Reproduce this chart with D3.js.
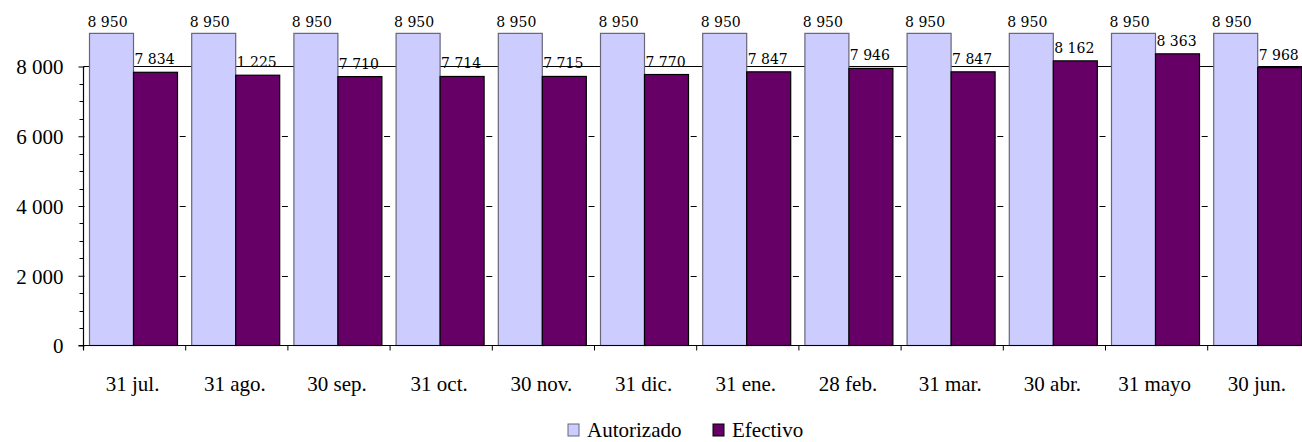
<!DOCTYPE html>
<html>
<head>
<meta charset="utf-8">
<script src="https://cdn.jsdelivr.net/npm/d3@7"></script>
<style>
  body { margin: 0; background: #fff; }
  svg { display: block; }
</style>
</head>
<body>
<div id="myGraph"></div>
<script>
// data
var categories = ['31 jul.', '31 ago.', '30 sep.', '31 oct.', '30 nov.', '31 dic.',
                  '31 ene.', '28 feb.', '31 mar.', '30 abr.', '31 mayo', '30 jun.'];
var series = ['Autorizado', 'Efectivo'];
var autorizado = [8950, 8950, 8950, 8950, 8950, 8950, 8950, 8950, 8950, 8950, 8950, 8950];
var efectivo = [7834, 7750, 7710, 7714, 7715, 7770, 7847, 7946, 7847, 8162, 8363, 7968];
var autorizadoLabels = ['8 950', '8 950', '8 950', '8 950', '8 950', '8 950',
                        '8 950', '8 950', '8 950', '8 950', '8 950', '8 950'];
var efectivoLabels = ['7 834', '1 225', '7 710', '7 714', '7 715', '7 770',
                      '7 847', '7 946', '7 847', '8 162', '8 363', '7 968'];
var yTicks = [0, 2000, 4000, 6000, 8000];
var yTickLabels = ['0', '2 000', '4 000', '6 000', '8 000'];
var colors = { Autorizado: '#ccccff', Efectivo: '#660066' };
var strokes = { Autorizado: '#666677', Efectivo: '#000000' };

var serifFont = "'Liberation Serif', serif";
var valFont = "'DejaVu Serif', serif";

var W = 1302, H = 442;
var axisX = 83.5, baseY = 345.5, topY = 66.5;

var svg = d3.select('#myGraph').append('svg').attr('width', W).attr('height', H);

var y = d3.scaleLinear().domain([0, 8000]).range([baseY, topY]);
var x0 = d3.scaleBand().domain(categories).range([axisX, axisX + 12 * 102.2]);
var x1 = d3.scaleBand().domain(series).range([6, 94]);

var rows = categories.map(function (c, i) {
    return { cat: c, vals: [
        { s: 'Autorizado', v: autorizado[i], lbl: autorizadoLabels[i] },
        { s: 'Efectivo', v: efectivo[i], lbl: efectivoLabels[i] }
    ] };
});

// top border line of plot area (at 8 000)
svg.append('line')
    .attr('x1', axisX).attr('x2', W)
    .attr('y1', y(8000)).attr('y2', y(8000))
    .attr('stroke', '#000').attr('stroke-width', 1);

// small gridline remnants between groups
var bounds = d3.range(1, 12).map(function (i) { return x0(categories[i]); });
yTicks.slice(1, 4).forEach(function (t) {
    svg.selectAll(null).data(bounds).enter().append('line')
        .attr('x1', function (b) { return b - 6; })
        .attr('x2', function (b) { return b; })
        .attr('y1', Math.round(y(t)) + 0.5).attr('y2', Math.round(y(t)) + 0.5)
        .attr('stroke', '#000');
});

var groups = svg.selectAll('g.grp').data(rows).enter().append('g')
    .attr('class', 'grp')
    .attr('transform', function (d) { return 'translate(' + x0(d.cat) + ',0)'; });

groups.selectAll('rect').data(function (d) { return d.vals; }).enter().append('rect')
    .attr('x', function (d) { return x1(d.s); })
    .attr('width', x1.bandwidth())
    .attr('y', function (d) { return y(d.v); })
    .attr('height', function (d) { return baseY - y(d.v); })
    .style('fill', function (d) { return colors[d.s]; })
    .style('stroke', function (d) { return strokes[d.s]; })
    .style('stroke-width', 1.2);

groups.selectAll('text').data(function (d) { return d.vals; }).enter().append('text')
    .attr('x', function (d) { return x1(d.s) + x1.bandwidth() / 2 - (d.s === 'Autorizado' ? 4 : 1); })
    .attr('y', function (d) { return y(d.v) - (d.s === 'Autorizado' ? 6 : 8); })
    .attr('text-anchor', 'middle')
    .style('font-family', valFont)
    .style('font-size', '14px')
    .style('fill', '#000')
    .text(function (d) { return d.lbl; });

// y axis
var yAxis = d3.axisLeft(y).tickValues(yTicks).tickSize(5)
    .tickFormat(function (d, i) { return yTickLabels[i]; });
var gy = svg.append('g').attr('transform', 'translate(' + axisX + ',0)').call(yAxis);
gy.select('.domain').remove();
gy.attr('font-size', null).attr('font-family', null);
gy.selectAll('text')
    .attr('x', -20).attr('dy', '0.35em')
    .style('font-family', serifFont).style('font-size', '21px').style('fill', '#000');
gy.selectAll('line').attr('x2', -5).attr('x1', 1);

var minor = d3.range(500, 8000, 500).filter(function (v) { return v % 2000 !== 0; });
svg.selectAll(null).data(minor).enter().append('line')
    .attr('x1', axisX - 4).attr('x2', axisX)
    .attr('y1', function (d) { return Math.round(y(d)) + 0.5; })
    .attr('y2', function (d) { return Math.round(y(d)) + 0.5; })
    .attr('stroke', '#000');

svg.append('line').attr('x1', axisX).attr('x2', axisX)
    .attr('y1', topY).attr('y2', baseY + 5).attr('stroke', '#000').attr('stroke-width', 1.2);

// x axis
svg.append('line').attr('x1', axisX - 5).attr('x2', W)
    .attr('y1', baseY).attr('y2', baseY).attr('stroke', '#000').attr('stroke-width', 1.2);
svg.selectAll(null).data(bounds).enter().append('line')
    .attr('x1', function (b) { return b; }).attr('x2', function (b) { return b; })
    .attr('y1', baseY).attr('y2', baseY + 5).attr('stroke', '#000');

svg.selectAll('text.xlab').data(categories).enter().append('text')
    .attr('class', 'xlab')
    .attr('x', function (d) { return x0(d) + x0.bandwidth() / 2 - 2; })
    .attr('y', 391)
    .attr('text-anchor', 'middle')
    .style('font-family', serifFont).style('font-size', '21px').style('fill', '#000')
    .text(function (d) { return d; });

// legend
var legX = [568, 713];
var leg = svg.selectAll('g.leg').data(series).enter().append('g')
    .attr('class', 'leg')
    .attr('transform', function (d, i) { return 'translate(' + legX[i] + ',424)'; });
leg.append('rect').attr('width', 11).attr('height', 12)
    .style('fill', function (d) { return colors[d]; })
    .style('stroke', function (d) { return strokes[d]; });
leg.append('text').attr('x', 19).attr('y', 13)
    .style('font-family', serifFont).style('font-size', '21px').style('fill', '#000')
    .text(function (d) { return d; });
</script>
</body>
</html>
